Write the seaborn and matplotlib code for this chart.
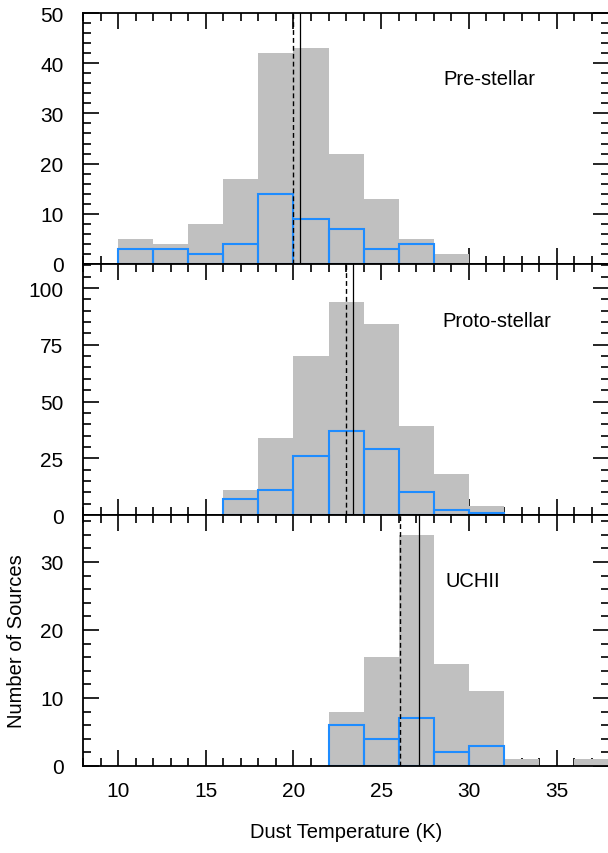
import numpy as np
import pandas as pd
import matplotlib
matplotlib.use("Agg")
import matplotlib.pyplot as plt
from matplotlib.ticker import MultipleLocator
import seaborn as sns

# Dust temperature histograms (2 K bins) for three evolutionary classes.
BIN_W = 2

pre_all_start = 10
pre_all = [5, 4, 8, 17, 42, 43, 22, 13, 5, 2]
pre_sub_start = 10
pre_sub = [3, 3, 2, 4, 14, 9, 7, 3, 4]
pre_median, pre_mean = 19.98, 20.36

proto_all_start = 16
proto_all = [11, 34, 70, 94, 84, 39, 18, 4]
proto_sub_start = 16
proto_sub = [7, 11, 26, 37, 29, 10, 2, 1]
proto_median, proto_mean = 22.97, 23.37

uchii_all_start = 22
uchii_all = [8, 16, 34, 15, 11, 1, 0, 1]
uchii_sub_start = 22
uchii_sub = [6, 4, 7, 2, 3]
uchii_median, uchii_mean = 26.07, 27.18

labels = ["Pre-stellar", "Proto-stellar", "UCHII"]
ylims = [50, 110.6, 36.9]
ymajor = [10, 25, 10]
yminor = [2, 5, 2]
label_pos = [(0.6857, 0.716), (0.682, 0.754), (0.6895, 0.718)]

GRAY = "#c0c0c0"
BLUE = "#1e8cff"

sns.set_theme(style="ticks")
plt.rcParams["font.family"] = ["Liberation Sans", "DejaVu Sans"]
plt.rcParams.update({
    "text.color": "black",
    "axes.labelcolor": "black",
    "xtick.color": "black",
    "ytick.color": "black",
    "xtick.labelcolor": "black",
    "ytick.labelcolor": "black",
})


def hist_frame(start, counts):
    edges = [float(start + BIN_W * k) for k in range(len(counts) + 1)]
    centers = [e + BIN_W / 2 for e in edges[:-1]]
    return pd.DataFrame({"T": centers, "n": counts}), edges


panels = [
    (pre_all_start, pre_all, pre_sub_start, pre_sub, pre_median, pre_mean),
    (proto_all_start, proto_all, proto_sub_start, proto_sub, proto_median, proto_mean),
    (uchii_all_start, uchii_all, uchii_sub_start, uchii_sub, uchii_median, uchii_mean),
]

fig, axes = plt.subplots(3, 1, figsize=(6.08, 8.54), dpi=100, sharex=True)
fig.subplots_adjust(left=83 / 608, right=1.002, top=1 - 14 / 854,
                    bottom=1 - 767 / 854, hspace=0)

for i, (ax, (a0, a, s0, s, med, mean)) in enumerate(zip(axes, panels)):
    df_a, e_a = hist_frame(a0, a)
    df_s, e_s = hist_frame(s0, s)
    sns.histplot(data=df_a, x="T", weights="n", bins=e_a, ax=ax,
                 color=GRAY, alpha=1, linewidth=0, edgecolor=GRAY)
    sns.histplot(data=df_s, x="T", weights="n", bins=e_s, ax=ax,
                 fill=False, element="bars", color=BLUE, linewidth=1.5)
    ax.axvline(med, color="black", lw=1.0, ls=(0, (3.5, 2.2)), zorder=3)
    ax.axvline(mean, color="black", lw=0.9, zorder=3)

    ax.set_xlim(8, 38)
    ax.set_ylim(0, ylims[i])
    ax.xaxis.set_major_locator(MultipleLocator(5))
    ax.xaxis.set_minor_locator(MultipleLocator(1))
    ax.yaxis.set_major_locator(MultipleLocator(ymajor[i]))
    ax.yaxis.set_minor_locator(MultipleLocator(yminor[i]))
    ax.tick_params(which="both", direction="in", top=True, right=True,
                   width=1.2, color="black", labelcolor="black")
    ax.tick_params(which="major", length=11.5)
    ax.tick_params(which="minor", length=5.6)
    ax.tick_params(axis="y", which="major", labelsize=15, pad=14)
    ax.tick_params(axis="x", which="major", labelsize=15, pad=11)
    for sp in ax.spines.values():
        sp.set_linewidth(1.3)
        sp.set_color("black")
    ax.set_xlabel("")
    ax.set_ylabel("")
    x0, y0 = label_pos[i]
    ax.text(x0, y0, labels[i], transform=ax.transAxes, fontsize=14.5,
            ha="left", va="baseline", color="black")

axes[-1].set_xlabel("Dust Temperature (K)", fontsize=14.5, labelpad=16,
                    color="black")
axes[-1].set_ylabel("Number of Sources", fontsize=14.5, labelpad=10,
                    color="black")

fig.savefig("out.png", dpi=100)
